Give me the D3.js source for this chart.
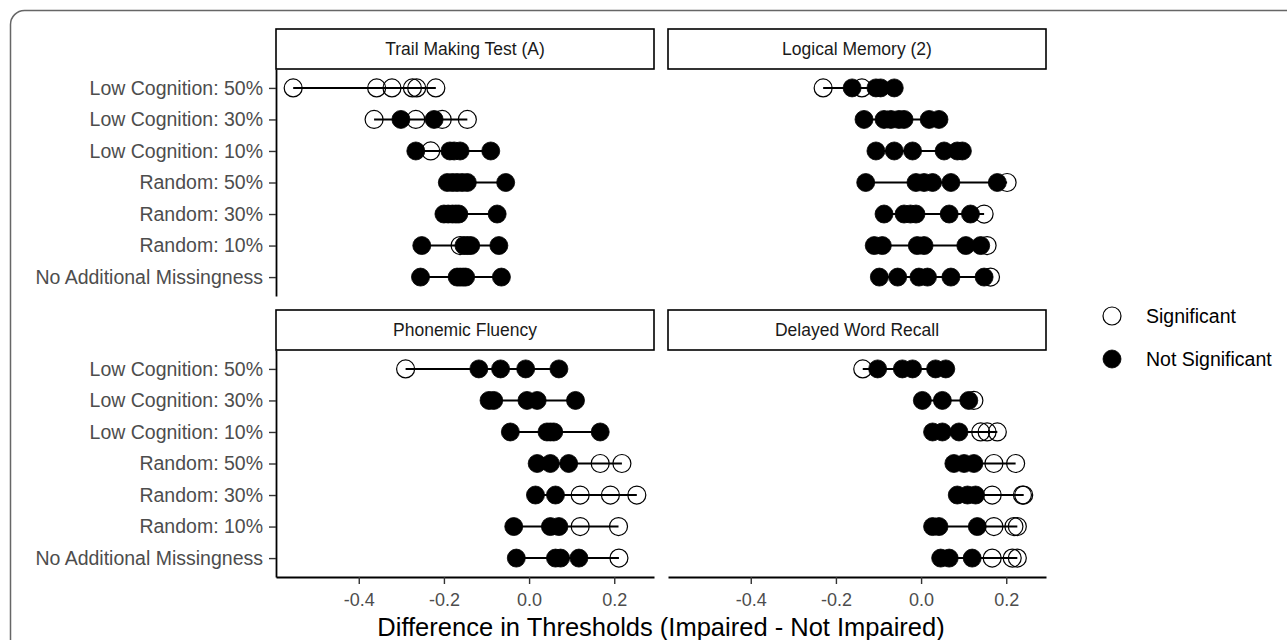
<!DOCTYPE html>
<html>
<head>
<meta charset="utf-8">
<script src="https://cdn.jsdelivr.net/npm/d3@7"></script>
<style>
  html, body { margin: 0; padding: 0; background: #fff; }
  svg { display: block; font-family: "Liberation Sans", Arial, Helvetica, sans-serif; }
</style>
</head>
<body>
<script>
// Missingness scenarios (rows of every panel, top to bottom)
const conditions = [
  "Low Cognition: 50%",
  "Low Cognition: 30%",
  "Low Cognition: 10%",
  "Random: 50%",
  "Random: 30%",
  "Random: 10%",
  "No Additional Missingness"
];

// Facet titles
const measures = ["Trail Making Test (A)", "Logical Memory (2)", "Phonemic Fluency", "Delayed Word Recall"];

// x-axis tick values
const xTicks = [-0.4, -0.2, 0.0, 0.2];

// Legend entries
const legendLabels = ["Significant", "Not Significant"];

// Threshold differences per scenario: [difference, significant (1) / not significant (0)]
const trailMaking = [
  [[-0.554, 1], [-0.358, 1], [-0.322, 1], [-0.274, 1], [-0.264, 1], [-0.219, 1]],
  [[-0.364, 1], [-0.301, 0], [-0.266, 1], [-0.204, 1], [-0.223, 0], [-0.145, 1]],
  [[-0.266, 0], [-0.231, 1], [-0.186, 0], [-0.176, 0], [-0.162, 0], [-0.090, 0]],
  [[-0.192, 0], [-0.180, 0], [-0.169, 0], [-0.157, 0], [-0.145, 0], [-0.055, 0]],
  [[-0.200, 0], [-0.190, 0], [-0.180, 0], [-0.172, 0], [-0.165, 0], [-0.075, 0]],
  [[-0.252, 0], [-0.162, 1], [-0.153, 0], [-0.145, 0], [-0.137, 0], [-0.071, 0]],
  [[-0.255, 0], [-0.169, 0], [-0.162, 0], [-0.155, 0], [-0.149, 0], [-0.065, 0]]
];

const logicalMemory = [
  [[-0.230, 1], [-0.162, 0], [-0.139, 1], [-0.106, 0], [-0.095, 0], [-0.063, 0]],
  [[-0.134, 0], [-0.087, 0], [-0.071, 0], [-0.052, 0], [-0.040, 0], [0.019, 0], [0.042, 0]],
  [[-0.106, 0], [-0.063, 0], [-0.020, 0], [0.054, 0], [0.085, 0], [0.097, 0]],
  [[-0.130, 0], [-0.012, 0], [0.007, 0], [0.027, 0], [0.070, 0], [0.179, 0], [0.202, 1]],
  [[-0.087, 0], [-0.040, 0], [-0.025, 0], [-0.012, 0], [0.066, 0], [0.116, 0], [0.148, 1]],
  [[-0.110, 0], [-0.091, 0], [-0.009, 0], [0.007, 0], [0.105, 0], [0.140, 0], [0.155, 1]],
  [[-0.098, 0], [-0.055, 0], [-0.005, 0], [0.015, 0], [0.070, 0], [0.148, 0], [0.163, 1]]
];

const phonemicFluency = [
  [[-0.290, 1], [-0.118, 0], [-0.067, 0], [-0.008, 0], [0.070, 0]],
  [[-0.094, 0], [-0.083, 0], [-0.005, 0], [0.019, 0], [0.109, 0]],
  [[-0.044, 0], [0.042, 0], [0.050, 0], [0.058, 0], [0.167, 0]],
  [[0.019, 0], [0.050, 0], [0.093, 0], [0.167, 1], [0.218, 1]],
  [[0.015, 0], [0.062, 0], [0.120, 1], [0.191, 1], [0.253, 1]],
  [[-0.036, 0], [0.050, 0], [0.070, 0], [0.120, 1], [0.210, 1]],
  [[-0.030, 0], [0.062, 0], [0.074, 0], [0.117, 0], [0.211, 1]]
];

const delayedRecall = [
  [[-0.137, 1], [-0.102, 0], [-0.044, 0], [-0.020, 0], [0.034, 0], [0.058, 0]],
  [[0.003, 0], [0.050, 0], [0.112, 0], [0.124, 1]],
  [[0.027, 0], [0.050, 0], [0.089, 0], [0.140, 1], [0.155, 1], [0.179, 1]],
  [[0.077, 0], [0.101, 0], [0.124, 0], [0.171, 1], [0.222, 1]],
  [[0.085, 0], [0.109, 0], [0.128, 0], [0.167, 1], [0.238, 1], [0.241, 1]],
  [[0.027, 0], [0.042, 0], [0.132, 0], [0.171, 1], [0.218, 1], [0.226, 1]],
  [[0.046, 0], [0.066, 0], [0.120, 0], [0.167, 1], [0.214, 1], [0.226, 1]]
];

const panelData = [trailMaking, logicalMemory, phonemicFluency, delayedRecall];

// ---- layout ----
const W = 1287, H = 640;
const panelW = 378, panelH = 227, stripH = 40;
const panelLeft = [276, 668];
const stripTop = [29, 310];
const pointR = 9;

const svg = d3.select("body").append("svg")
  .attr("width", W).attr("height", H);

svg.append("rect").attr("width", W).attr("height", H).attr("fill", "#fff");

// figure frame
svg.append("rect")
  .attr("x", 10.5).attr("y", 10.5)
  .attr("width", W + 40).attr("height", H + 40)
  .attr("rx", 14)
  .attr("fill", "none").attr("stroke", "#666").attr("stroke-width", 1.5);

// shared scales (fixed across facets, 5% expansion on the data range)
const [lo, hi] = d3.extent(panelData.flat(2), d => d[0]);
const pad = (hi - lo) * 0.05;
const x = d3.scaleLinear().domain([lo - pad, hi + pad]).range([0, panelW]);
const y = d3.scalePoint().domain(conditions).range([0, panelH]).padding(0.6);

measures.forEach((name, k) => {
  const col = k % 2, row = Math.floor(k / 2);
  const top = stripTop[row] + stripH;
  const g = svg.append("g").attr("transform", `translate(${panelLeft[col]},${top})`);
  const data = panelData[k];

  // strip
  g.append("rect")
    .attr("x", 0).attr("y", -stripH)
    .attr("width", panelW).attr("height", stripH)
    .attr("fill", "#fff").attr("stroke", "#000").attr("stroke-width", 1.6);
  g.append("text")
    .attr("x", panelW / 2).attr("y", -stripH / 2)
    .attr("text-anchor", "middle").attr("dominant-baseline", "central")
    .attr("font-size", 17.5).attr("fill", "#1a1a1a")
    .text(name);

  // range segment per scenario
  g.selectAll("line.range")
    .data(conditions.map((c, i) => ({ c, ext: d3.extent(data[i], d => d[0]) })))
    .join("line")
    .attr("class", "range")
    .attr("x1", d => x(d.ext[0])).attr("x2", d => x(d.ext[1]))
    .attr("y1", d => y(d.c)).attr("y2", d => y(d.c))
    .attr("stroke", "#000").attr("stroke-width", 2);

  // points: significant (open) first, then non-significant (filled) on top
  const pts = conditions.flatMap((c, i) => data[i].map(d => ({ c, v: d[0], sig: d[1] })));
  pts.sort((a, b) => b.sig - a.sig);
  g.selectAll("circle.pt")
    .data(pts)
    .join("circle")
    .attr("class", "pt")
    .attr("cx", d => x(d.v)).attr("cy", d => y(d.c)).attr("r", pointR)
    .attr("fill", d => d.sig ? "none" : "#000")
    .attr("stroke", "#000").attr("stroke-width", d => d.sig ? 1.2 : 0.8);

  // y axis on the left column
  if (col === 0) {
    const ay = g.append("g")
      .call(d3.axisLeft(y).tickSize(7).tickPadding(6).tickSizeOuter(0));
    ay.select(".domain").attr("stroke", "#000").attr("stroke-width", 1.8);
    ay.selectAll(".tick line").attr("stroke", "#333").attr("stroke-width", 1.4);
    ay.selectAll(".tick text")
      .attr("font-size", 19.5).attr("fill", "#4d4d4d");
    ay.attr("font-family", null).attr("font-size", null);
  }

  // x axis on the bottom row
  if (row === 1) {
    const ax = g.append("g")
      .attr("transform", `translate(0,${panelH})`)
      .call(d3.axisBottom(x).tickValues(xTicks).tickFormat(d => d.toFixed(1))
        .tickSize(7).tickPadding(9).tickSizeOuter(0));
    ax.select(".domain").attr("stroke", "#000").attr("stroke-width", 1.8);
    ax.selectAll(".tick line").attr("stroke", "#333").attr("stroke-width", 1.4);
    ax.selectAll(".tick text")
      .attr("font-size", 18).attr("fill", "#4d4d4d");
    ax.attr("font-family", null).attr("font-size", null);
  }
});

// x-axis title
svg.append("text")
  .attr("x", (panelLeft[0] + panelLeft[1] + panelW) / 2).attr("y", 636)
  .attr("text-anchor", "middle")
  .attr("font-size", 25.5).attr("fill", "#000")
  .text("Difference in Thresholds (Impaired - Not Impaired)");

// legend
const legend = svg.append("g").attr("transform", "translate(1112,316)");
legendLabels.forEach((lab, i) => {
  const item = legend.append("g").attr("transform", `translate(0,${i * 43})`);
  item.append("circle").attr("r", pointR)
    .attr("fill", i === 0 ? "none" : "#000")
    .attr("stroke", "#000").attr("stroke-width", i === 0 ? 1.2 : 0.8);
  item.append("text").attr("x", 34).attr("y", 0)
    .attr("dominant-baseline", "central")
    .attr("font-size", 19.5).attr("fill", "#000")
    .text(lab);
});
</script>
</body>
</html>
